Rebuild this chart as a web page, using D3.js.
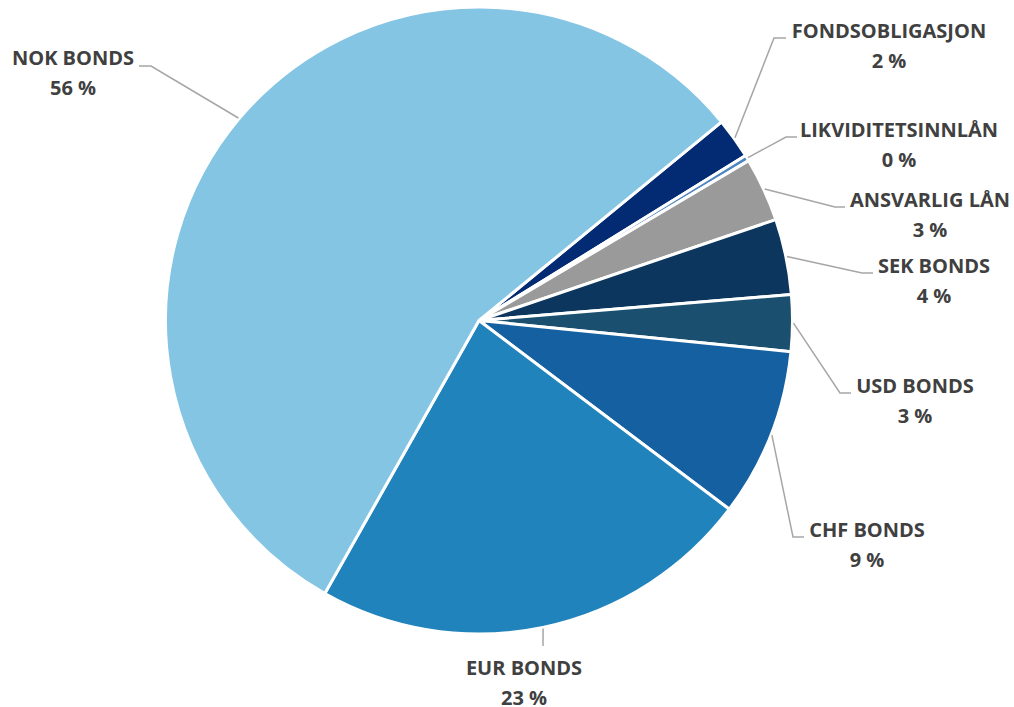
<!DOCTYPE html>
<html>
<head>
<meta charset="utf-8">
<script src="https://cdn.jsdelivr.net/npm/d3@7"></script>
<style>
  html, body { margin: 0; padding: 0; background: #ffffff; }
  svg { display: block; }
  text { font-family: "Open Sans", "Noto Sans", sans-serif; font-weight: bold; fill: #404040; }
</style>
</head>
<body>
<svg id="chart" width="1014" height="707"></svg>
<script>
// ---- data ----
const categories = ["FONDSOBLIGASJON", "LIKVIDITETSINNLÅN", "ANSVARLIG LÅN", "SEK BONDS", "USD BONDS", "CHF BONDS", "EUR BONDS", "NOK BONDS"];
const values = [2.1, 0.3, 3.3, 3.9, 2.9, 8.7, 22.9, 55.9];
const colors = ["#032B73", "#4F86BF", "#9A9A9A", "#0C365E", "#1B4F6F", "#1560A1", "#2083BC", "#84C5E4"];

// label layout: [label centre x, first baseline y, elbow x, elbow y, line end x]
const labelLayout = [
  [889, 38, 774, 38, 786],
  [899, 137, 786, 137, 797],
  [930, 207, 835, 207, 845],
  [934, 273, 862, 273, 873],
  [915, 393, 840, 393, 851],
  [867, 537, 793, 537, 804],
  [524, 675, 543, 646, 543],
  [73, 65, 151, 66, 139]
];

const svg = d3.select("#chart");
const cx = 479, cy = 320.5, r = 313.5;
const g = svg.append("g").attr("transform", `translate(${cx},${cy})`);

const startDeg = 50.7;
const pie = d3.pie().sort(null).value(d => d.v)
  .startAngle(startDeg * Math.PI / 180)
  .endAngle((startDeg + 360) * Math.PI / 180);

const data = categories.map((c, i) => ({ name: c, v: values[i], color: colors[i], lay: labelLayout[i] }));
const arcs = pie(data);
const arc = d3.arc().innerRadius(0).outerRadius(r);

g.selectAll("path.slice").data(arcs).enter().append("path")
  .attr("class", "slice")
  .attr("d", arc)
  .attr("fill", d => d.data.color)
  .attr("stroke", "#ffffff")
  .attr("stroke-width", 3)
  .attr("stroke-linejoin", "round");

// leader lines
svg.selectAll("polyline.leader").data(arcs).enter().append("polyline")
  .attr("class", "leader")
  .attr("fill", "none")
  .attr("stroke", "#A6A6A6")
  .attr("stroke-width", 1.5)
  .attr("points", d => {
    const a = (d.startAngle + d.endAngle) / 2;
    const sx = cx + (r + 1) * Math.sin(a), sy = cy - (r + 1) * Math.cos(a);
    const L = d.data.lay;
    return [[sx, sy], [L[2], L[3]], [L[4], L[3]]].map(p => p.join(",")).join(" ");
  });

// labels
const lbl = svg.selectAll("text.lbl").data(arcs).enter().append("text")
  .attr("class", "lbl")
  .attr("text-anchor", "middle")
  .attr("font-size", 20);
lbl.append("tspan").attr("x", d => d.data.lay[0]).attr("y", d => d.data.lay[1]).text(d => d.data.name);
lbl.append("tspan").attr("x", d => d.data.lay[0]).attr("y", d => d.data.lay[1] + 29.5)
  .text(d => d3.format(".0f")(d.data.v) + " %");
</script>
</body>
</html>
